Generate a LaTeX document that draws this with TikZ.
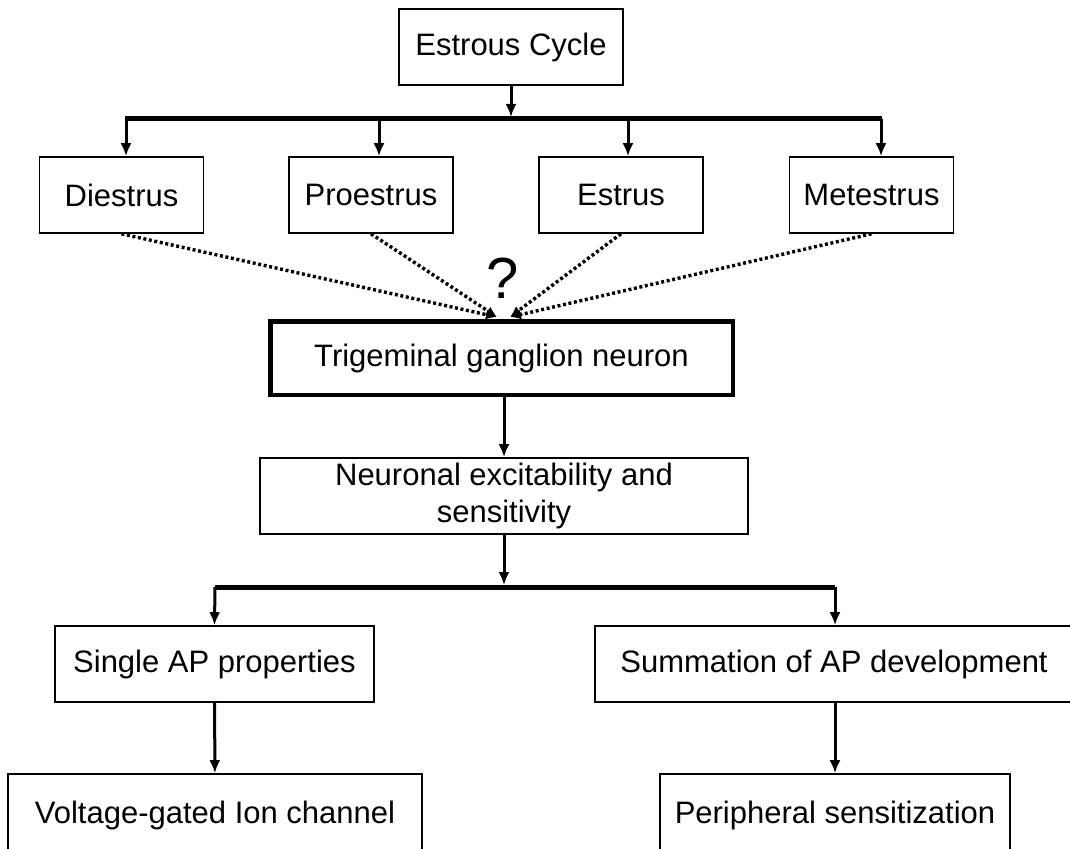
\documentclass[tikz,border=0pt]{standalone}
\usepackage{fontspec}
\setmainfont{Liberation Sans}
\usetikzlibrary{arrows.meta, positioning}
\tikzstyle{block} = [draw, rectangle, line width=1.6pt, minimum height=76pt, inner sep=0pt, align=center, font=\fontsize{31}{37}\selectfont]
\tikzstyle{phase} = [block, minimum width=164pt]
\tikzstyle{neuron} = [block, line width=4.5pt, minimum width=462.5pt, minimum height=73.5pt]
\tikzstyle{leaf} = [block, minimum height=82pt]
\tikzstyle{link} = [-{Latex[length=13pt, width=11pt]}, line width=3pt]
\tikzstyle{hint} = [-{Latex[length=11pt, width=10pt]}, line width=3.4pt, dash pattern=on 3pt off 2.6pt]
\tikzstyle{bar} = [line width=5pt]

\begin{document}
\begin{tikzpicture}[x=1pt, y=-1pt]
    \useasboundingbox (0,0) rectangle (1070,848);

    \node (cycle) [block, minimum width=224pt] at (511,47) {Estrous Cycle};
    \node (diestrus) [phase] at (121.5,195) {Diestrus};
    \node (proestrus) [phase] at (371,195) {Proestrus};
    \node (estrus) [phase] at (621,195) {Estrus};
    \node (metestrus) [phase] at (871.5,195) {Metestrus};
    \node (query) [inner sep=0pt, font=\fontsize{58}{60}\selectfont] at (503,278) {?};
    \node (neuron) [neuron] at (501.5,358) {Trigeminal ganglion neuron};
    \node (excite) [block, minimum width=488pt] at (504,496) {Neuronal excitability and\\sensitivity};
    \node (single) [block, minimum width=319pt] at (214.5,664) {Single AP properties};
    \node (summation) [block, minimum width=478pt] at (834,664) {Summation of AP development};
    \node (channel) [leaf, minimum width=414pt] at (215,815) {Voltage-gated Ion channel};
    \node (periph) [leaf, minimum width=350pt] at (835,815) {Peripheral sensitization};

    % Forks.
    \coordinate (upper l) at (125,119);
    \coordinate (upper r) at (882,119);
    \coordinate (fork d) at (126,119);
    \coordinate (fork p) at (379,119);
    \coordinate (fork e) at (628,119);
    \coordinate (fork m) at (881,119);
    \coordinate (lower l) at (215,587);
    \coordinate (lower r) at (835,587);
    \coordinate (join l) at (497,317);
    \coordinate (join r) at (510,317);

    % Arrows.
    \draw [link, shorten >=2pt] (cycle) -- (cycle |- upper l);
    \draw [bar] (upper l) -- (upper r);
    \draw [link] (fork d) -- (fork d |- diestrus.north);
    \draw [link] (fork p) -- (fork p |- proestrus.north);
    \draw [link] (fork e) -- (fork e |- estrus.north);
    \draw [link] (fork m) -- (fork m |- metestrus.north);
    \draw [hint] (diestrus.south) -- (join l);
    \draw [hint] (proestrus.south) -- (join l);
    \draw [hint] (estrus.south) -- (join r);
    \draw [hint] (metestrus.south) -- (join r);
    \draw [link] (neuron.south -| excite.north) -- (excite.north);
    \draw [link, shorten >=2pt] (excite) -- (excite |- lower l);
    \draw [bar] (lower l) -- (lower r);
    \draw [link] (lower l) -- (single.north);
    \draw [link] (lower r) -- (lower r |- summation.north);
    \draw [link] (single) -- (channel);
    \draw [link] (summation.south -| periph.north) -- (periph.north);
\end{tikzpicture}
\end{document}
